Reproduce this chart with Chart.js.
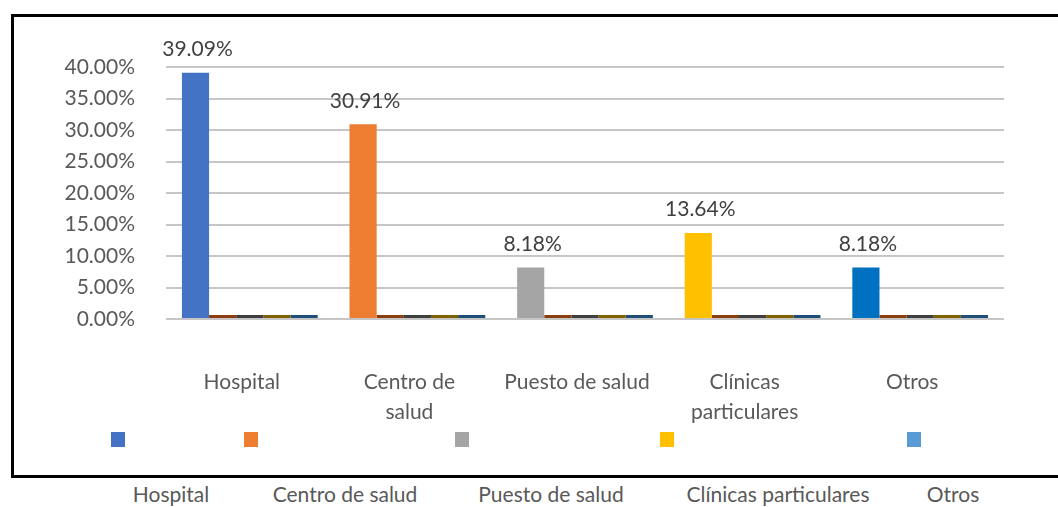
<!DOCTYPE html>
<html>
<head>
<meta charset="utf-8">
<script src="https://cdn.jsdelivr.net/npm/chart.js@4"></script>
<style>
  body { margin: 0; background: #fff; font-family: Lato, sans-serif; }
  #frame { position: absolute; left: 11px; top: 14px; width: 1060px; height: 458px; border: 3px solid #000; }
  #wrap { position: absolute; left: 15px; top: 18px; width: 1043px; height: 457px; }
  .sq { position: absolute; top: 432px; width: 14px; height: 15px; }
  .cap { position: absolute; top: 481px; font-size: 21px; color: #595959; transform: translateX(-50%); white-space: nowrap; }
</style>
</head>
<body>
<div id="frame"></div>
<div id="wrap"><canvas id="myChart"></canvas></div>

<div class="sq" style="left:111px;background:#4472C4"></div>
<div class="sq" style="left:244px;background:#ED7D31"></div>
<div class="sq" style="left:455px;background:#A5A5A5"></div>
<div class="sq" style="left:660px;background:#FFC000"></div>
<div class="sq" style="left:907px;background:#5B9BD5"></div>

<div class="cap" style="left:171px">Hospital</div>
<div class="cap" style="left:345px">Centro de salud</div>
<div class="cap" style="left:551px">Puesto de salud</div>
<div class="cap" style="left:778px">Clínicas particulares</div>
<div class="cap" style="left:953px">Otros</div>

<script>
    const categories = ['Hospital', ['Centro de', 'salud'], 'Puesto de salud', ['Clínicas', 'particulares'], 'Otros'];
    const seriesNames = ['Hospital', 'Centro de salud', 'Puesto de salud', 'Clínicas particulares', 'Otros'];
    const percentages = [39.09, 30.91, 8.18, 13.64, 8.18];
    const zeroSeries = [0, 0, 0, 0, 0];
    const barColors = ['#4472C4', '#ED7D31', '#A5A5A5', '#FFC000', '#0070C0'];
    const flatColors = ['#8A3E0F', '#3F3F3F', '#7F6000', '#1F4E79'];
    const yTicks = [0, 5, 10, 15, 20, 25, 30, 35, 40];

    // labels above the real bars
    const valueLabels = {
        id: 'valueLabels',
        afterDatasetsDraw(chart) {
            const ctx = chart.ctx;
            const meta = chart.getDatasetMeta(0);
            ctx.save();
            ctx.font = '21px Lato';
            ctx.fillStyle = '#404040';
            ctx.textAlign = 'center';
            ctx.textBaseline = 'bottom';
            meta.data.forEach((bar, i) => {
                ctx.fillText(percentages[i].toFixed(2) + '%', bar.x + 2, bar.y - 13);
            });
            ctx.restore();
        }
    };

    const datasets = [{
        label: seriesNames[0],
        data: percentages,
        backgroundColor: barColors,
        borderWidth: 0
    }];
    for (let s = 1; s < seriesNames.length; s++) {
        datasets.push({
            label: seriesNames[s],
            data: zeroSeries,
            backgroundColor: flatColors[s - 1],
            minBarLength: 4,
            borderWidth: 0
        });
    }

    const config = {
        type: 'bar',
        data: {
            labels: categories,
            datasets: datasets
        },
        options: {
            responsive: true,
            maintainAspectRatio: false,
            animation: false,
            categoryPercentage: 0.81,
            barPercentage: 1,
            layout: {
                padding: { top: 49, right: 54, bottom: 0, left: 0 }
            },
            scales: {
                x: {
                    grid: { display: false },
                    border: { display: false },
                    afterFit(scale) { scale.height = 156; },
                    ticks: {
                        padding: 40,
                        labelOffset: -8,
                        maxRotation: 0,
                        autoSkip: false,
                        color: '#595959',
                        font: { family: 'Lato', size: 21, lineHeight: 1.45 }
                    }
                },
                y: {
                    min: 0,
                    max: 40,
                    afterFit(scale) { scale.width = 151; },
                    afterBuildTicks(scale) { scale.ticks = yTicks.map(v => ({ value: v })); },
                    grid: { color: '#c6c6c6', lineWidth: 2, drawTicks: false },
                    border: { display: false },
                    ticks: {
                        padding: 31,
                        color: '#595959',
                        font: { family: 'Lato', size: 21 },
                        callback: v => v.toFixed(2) + '%'
                    }
                }
            },
            plugins: {
                legend: { display: false },
                tooltip: { enabled: false }
            }
        },
        plugins: [valueLabels]
    };

    const ctx = document.getElementById('myChart');

    new Chart(ctx, config);
</script>
</body>
</html>
